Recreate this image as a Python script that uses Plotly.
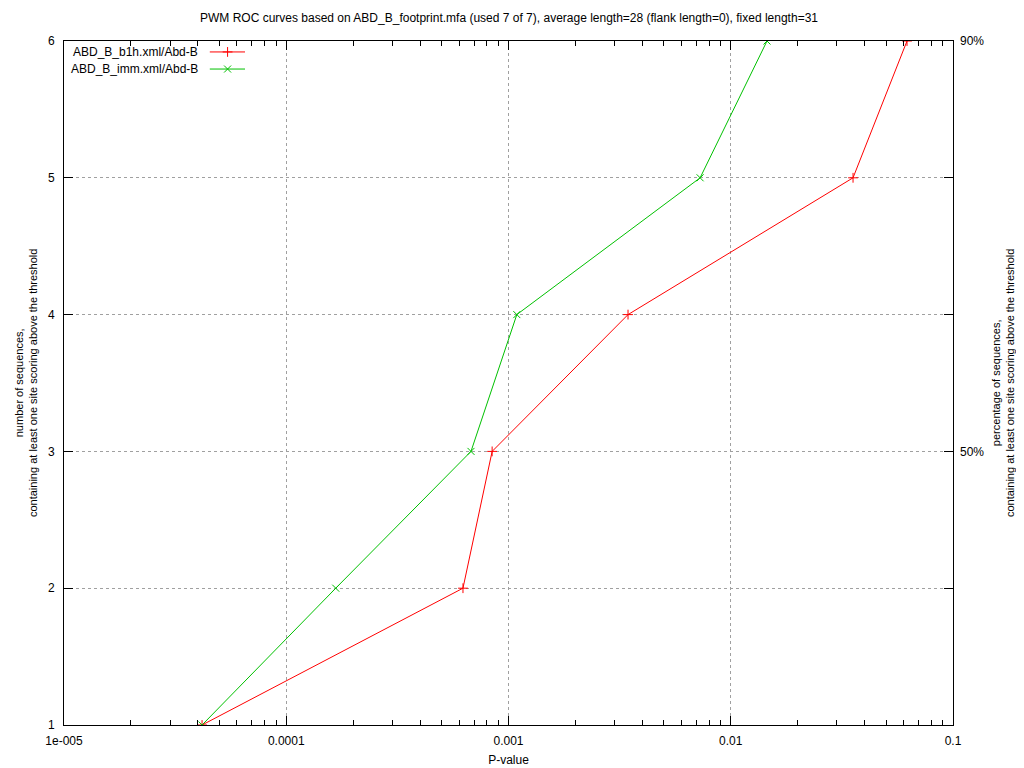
import plotly.graph_objects as go

# Data
y_counts = [1, 2, 3, 4, 5, 6]
b1h_pvalues = [4.18e-5, 6.24e-4, 8.44e-4, 3.45e-3, 0.0355, 0.0621]
imm_pvalues = [4.18e-5, 1.67e-4, 6.78e-4, 1.09e-3, 7.28e-3, 0.01456]
series_names = ["ABD_B_b1h.xml/Abd-B", "ABD_B_imm.xml/Abd-B"]
x_tickvals = [1e-5, 1e-4, 1e-3, 1e-2, 1e-1]
x_ticktext = ["1e-005", "0.0001", "0.001", "0.01", "0.1"]
y_tickvals = [1, 2, 3, 4, 5, 6]
y2_tickvals = [3, 6]
y2_ticktext = ["50%", "90%"]

RED = "#ff0000"
GREEN = "#00c000"
FONT = "Liberation Sans"

minor_vals = [m * 10 ** e for e in range(-5, -1) for m in range(2, 10)]

fig = go.Figure()
fig.add_trace(go.Scatter(
    x=b1h_pvalues, y=y_counts, mode="lines+markers", name=series_names[0],
    line=dict(color=RED, width=1),
    marker=dict(symbol="cross-thin-open", size=7, color=RED, line=dict(color=RED, width=1)),
    showlegend=False))
fig.add_trace(go.Scatter(
    x=imm_pvalues, y=y_counts, mode="lines+markers", name=series_names[1],
    line=dict(color=GREEN, width=1),
    marker=dict(symbol="x-thin-open", size=7, color=GREEN, line=dict(color=GREEN, width=1)),
    showlegend=False))

# custom gnuplot-style legend on an overlay axis (0..1 paper-like)
leg_rows = [0.984, 0.959]
leg_colors = [RED, GREEN]
leg_symbols = ["cross-thin-open", "x-thin-open"]
for name, yy, col, sym in zip(series_names, leg_rows, leg_colors, leg_symbols):
    fig.add_trace(go.Scatter(
        x=[0.164, 0.2036], y=[yy, yy], mode="lines", line=dict(color=col, width=1),
        xaxis="x3", yaxis="y3", showlegend=False, hoverinfo="skip"))
    fig.add_trace(go.Scatter(
        x=[0.184], y=[yy], mode="markers",
        marker=dict(symbol=sym, size=7, color=col, line=dict(color=col, width=1)),
        xaxis="x3", yaxis="y3", showlegend=False, hoverinfo="skip"))
    fig.add_annotation(x=0.153, y=yy, xref="x3", yref="y3", text=name,
                       showarrow=False, xanchor="right", yanchor="middle",
                       font=dict(family=FONT, size=12, color="black"))

fig.add_trace(go.Scatter(x=[None], y=[None], yaxis="y2", showlegend=False))

# axis titles as rotated annotations
fig.add_annotation(x=-0.0427, y=0.5, xref="paper", yref="paper", textangle=-90,
                   text="number of sequences,<br>containing at least one site scoring above the threshold",
                   showarrow=False, xanchor="center", yanchor="middle",
                   font=dict(family=FONT, size=11, color="black"))
fig.add_annotation(x=1.0563, y=0.5, xref="paper", yref="paper", textangle=-90,
                   text="percentage of sequences,<br>containing at least one site scoring above the threshold",
                   showarrow=False, xanchor="center", yanchor="middle",
                   font=dict(family=FONT, size=11, color="black"))

# the page body has an 8px default margin, so the figure is sized to fit the window
fig.update_layout(
    width=1016, height=760,
    margin=dict(l=56, r=71, t=33, b=43, autoexpand=False),
    paper_bgcolor="white", plot_bgcolor="white",
    font=dict(family=FONT, size=12, color="black"),
    title=dict(text="PWM ROC curves based on ABD_B_footprint.mfa (used 7 of 7), average length=28 (flank length=0), fixed length=31",
               x=0.4931, xanchor="center", y=0.9868, yanchor="middle",
               font=dict(family=FONT, size=12)),
    xaxis=dict(type="log", range=[-5, -1], tickvals=x_tickvals, ticktext=x_ticktext,
               ticks="inside", ticklen=9, tickcolor="black", showline=True,
               linecolor="black", linewidth=1, mirror="ticks", automargin=False,
               showgrid=True, gridcolor="#a0a0a0", griddash="dot", gridwidth=1,
               zeroline=False, tickfont=dict(family=FONT, size=12),
               ticklabelstandoff=5,
               minor=dict(tickvals=minor_vals, ticks="inside", ticklen=5,
                          tickcolor="black", showgrid=False),
               title=dict(text="P-value", standoff=8, font=dict(family=FONT, size=12))),
    yaxis=dict(range=[1, 6], tickvals=y_tickvals, ticks="inside", ticklen=9,
               tickcolor="black", showline=True, linecolor="black", linewidth=1,
               mirror="ticks", showgrid=True, gridcolor="#a0a0a0", griddash="dot",
               gridwidth=1, zeroline=False, ticklabelstandoff=6, automargin=False,
               tickfont=dict(family=FONT, size=12)),
    yaxis2=dict(range=[1, 6], overlaying="y", side="right", tickvals=y2_tickvals,
                ticktext=y2_ticktext, ticks="inside", ticklen=9, tickcolor="black",
                showgrid=False, zeroline=False, showline=False, ticklabelstandoff=6,
                automargin=False, tickfont=dict(family=FONT, size=12)),
    xaxis3=dict(overlaying="x", range=[0, 1], visible=False, anchor="y3"),
    yaxis3=dict(overlaying="y", range=[0, 1], visible=False, anchor="x3"),
)

fig.write_html("out.html")
